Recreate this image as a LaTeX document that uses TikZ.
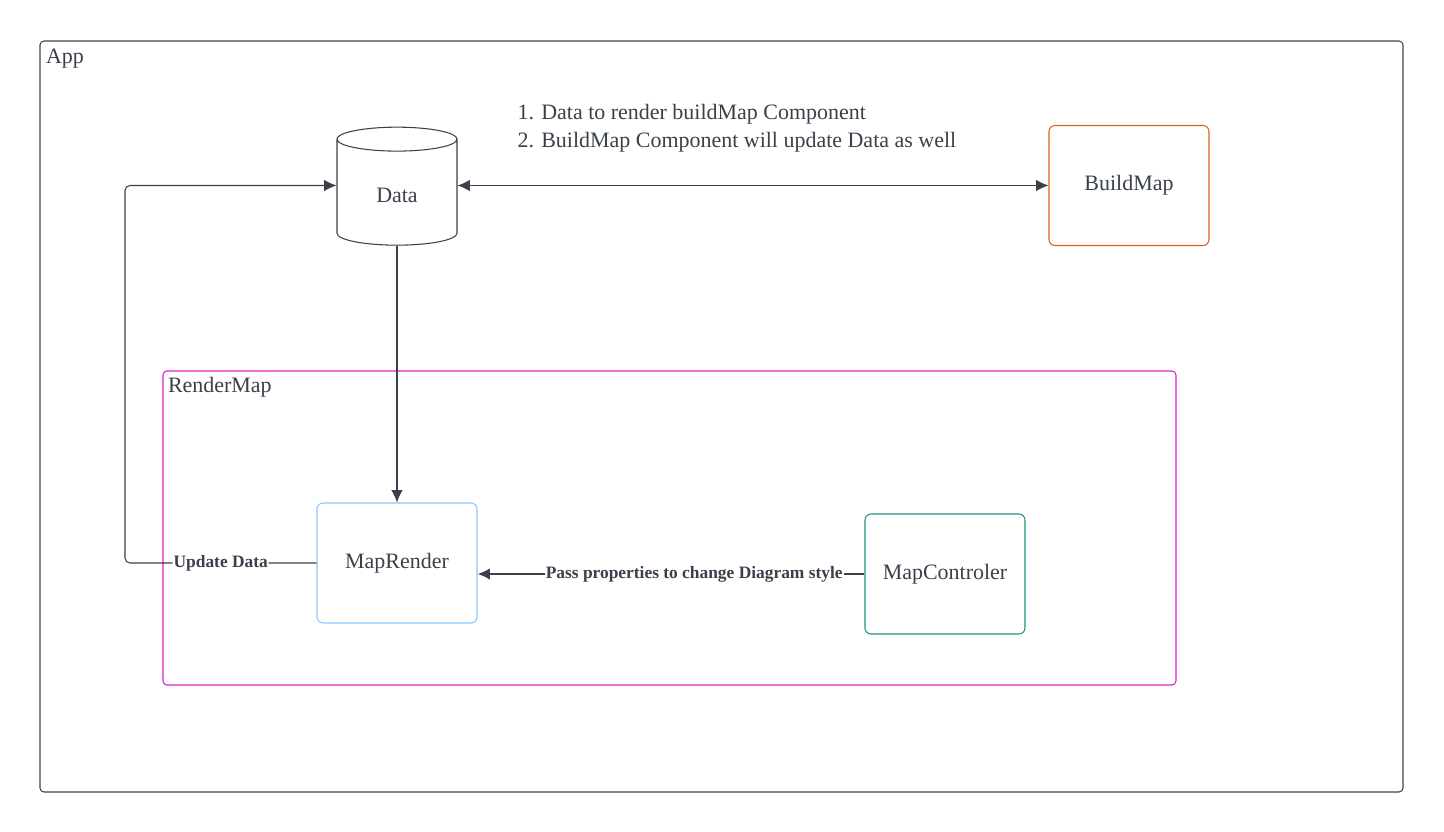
\documentclass[tikz,border=0pt]{standalone}
\usepackage{fontspec}
\setmainfont{Liberation Serif}
\usetikzlibrary{shapes.geometric,arrows.meta,positioning}

\definecolor{ink}{RGB}{58,65,74}
\definecolor{framegray}{RGB}{61,68,80}
\definecolor{pinkframe}{RGB}{226,30,196}
\definecolor{orangebox}{RGB}{217,96,30}
\definecolor{bluebox}{RGB}{140,196,255}
\definecolor{tealbox}{RGB}{30,145,130}

\begin{document}
\begin{tikzpicture}[node distance = 2.8cm, on grid, line width = 0.6pt, text = ink,
  font = \fontsize{12.5}{15}\selectfont,
  frame/.style = {draw, rounded corners = 0.08cm, inner sep = 0pt},
  comp/.style = {draw, rounded corners = 0.12cm, minimum width = 3.2cm, minimum height = 2.4cm},
  store/.style = {draw = ink, cylinder, shape border rotate = 90, aspect = 0.45, minimum width = 2.4cm, minimum height = 2.36cm},
  arrowtip/.style = {-{Latex[length = 7pt, width = 6.5pt]}},
  edgelabel/.style = {fill = white, inner sep = 0.5pt, font = \fontsize{9.9}{12}\selectfont\bfseries}]
\useasboundingbox (0,0) rectangle (28.88,-16.64);

% containers
\node[frame, draw = framegray, minimum width = 27.26cm, minimum height = 15.02cm] (App) at (14.43,-8.33) {};
\node[anchor = base west, inner sep = 0pt] (AppTitle) at ([shift = {(0.12,-0.46)}]App.north west) {App};
\node[frame, draw = pinkframe, minimum width = 20.26cm, minimum height = 6.28cm] (RenderMap) at (13.39,-10.56) {};
\node[anchor = base west, inner sep = 0pt] (RenderMapTitle) at ([shift = {(0.1,-0.44)}]RenderMap.north west) {RenderMap};

% components
\node[store] (Data) at (7.94,-3.90) {Data};
\node[comp, draw = orangebox, above right = 0.19cm and 14.64cm of Data] (BuildMap) {BuildMap};
\node[comp, draw = bluebox, below = 7.36cm of Data] (MapRender) {MapRender};
\node[comp, draw = tealbox, below right = 0.22cm and 10.96cm of MapRender] (MapControler) {MapControler};
\coordinate (bend) at (2.5,-11.26);
\coordinate (dataport) at (Data.west |- BuildMap.west);

\node[anchor = west, align = left, inner sep = 0pt, font = \fontsize{12.5}{15.9}\selectfont] (note) at (10.34,-2.56)
  {1. Data to render buildMap Component\\2. BuildMap Component will update Data as well};

% connectors
\draw[ink, {Latex[length = 7pt, width = 6.5pt]}-{Latex[length = 7pt, width = 6.5pt]}] (BuildMap.west -| Data.east) -- (BuildMap.west);
\path (Data) edge[draw = ink, arrowtip] (MapRender);
\draw[ink, arrowtip, rounded corners = 0.1cm] (MapRender.west) -- node[edgelabel, pos = 0.5] {Update Data} (MapRender.west -| bend) |- (dataport);
\draw[ink, line width = 1.1pt, arrowtip] (MapControler.west) -- node[edgelabel, pos = 0.44] {Pass properties to change Diagram style} (MapControler.west -| MapRender.east);
\end{tikzpicture}
\end{document}
